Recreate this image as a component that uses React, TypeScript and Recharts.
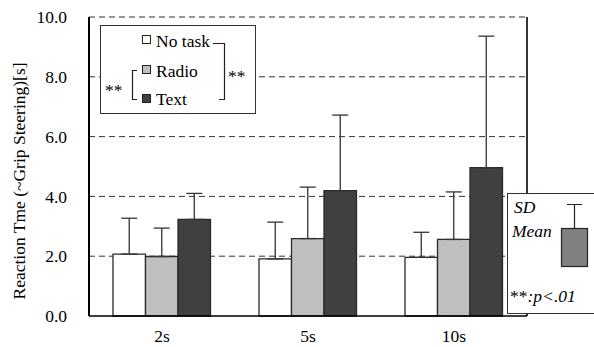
import { BarChart, Bar, XAxis, YAxis, CartesianGrid, ErrorBar } from 'recharts'

const categories = ['2s', '5s', '10s']
const noTaskMean = [2.07, 1.91, 1.96]
const noTaskSD = [1.2, 1.23, 0.84]
const radioMean = [1.99, 2.59, 2.56]
const radioSD = [0.95, 1.72, 1.59]
const textMean = [3.23, 4.19, 4.96]
const textSD = [0.87, 2.53, 4.4]
const yTicks = [0, 2, 4, 6, 8, 10]

// 17.5px: a 18px el renderizador cae a una fuente sans
const FONT = 'Liberation Serif'
const FS = 17.5
const COLORS = { none: '#ffffff', radio: '#bfbfbf', text: '#404040', edge: '#2a2a2a' }

const data = categories.map((name, i) => ({
  name,
  noTask: noTaskMean[i],
  noTaskErr: [0, noTaskSD[i]],
  radio: radioMean[i],
  radioErr: [0, radioSD[i]],
  text: textMean[i],
  textErr: [0, textSD[i]],
}))

const tickStyle = { fontSize: FS, fill: '#000', fontFamily: FONT }

// leyenda y anotaciones encima del gráfico
function Overlay() {
  const txt = { fontSize: FS, fill: '#000', fontFamily: FONT }
  const line = { stroke: '#222', strokeWidth: 1.2, fill: 'none' }
  return (
    <svg width={594} height={347} style={{ position: 'absolute', left: 0, top: 0, pointerEvents: 'none' }}>
      {/* borde derecho del área de trazado */}
      <line x1={527} y1={17} x2={527} y2={316} stroke="#000" strokeWidth={1.6} />

      <text {...txt} transform="rotate(-90 25 181)" x={25} y={181} textAnchor="middle">
        Reaction Tme (~Grip Steering)[s]
      </text>

      {/* caja de leyenda */}
      <rect x={100.5} y={25.5} width={155} height={88} fill="#fff" stroke="#333" strokeWidth={1} />
      <rect x={142.5} y={35.5} width={8} height={8} fill={COLORS.none} stroke="#222" />
      <text {...txt} x={156} y={47}>No task</text>
      <rect x={142.5} y={65.5} width={8} height={8} fill={COLORS.radio} stroke="#222" />
      <text {...txt} x={156} y={77}>Radio</text>
      <rect x={142.5} y={94.5} width={8} height={8} fill={COLORS.text} stroke="#222" />
      <text {...txt} x={156} y={105}>Text</text>
      <path d="M213 43.5 H224.5 V99.5 H219" {...line} />
      <text {...txt} x={228} y={82}>**</text>
      <path d="M137 70.5 H132.5 V99.5 H137" {...line} />
      <text {...txt} x={105} y={96}>**</text>

      {/* caja SD / Mean */}
      <rect x={507.5} y={193.5} width={100} height={120} fill="#fff" stroke="#333" strokeWidth={1} />
      <text {...txt} fontStyle="italic" x={514} y={213}>SD</text>
      <text {...txt} fontStyle="italic" x={512} y={237}>Mean</text>
      <path d="M574.5 228 V204.5 M567 204.5 H582" {...line} />
      <rect x={561.5} y={228.5} width={26} height={38} fill="#808080" stroke="#222" strokeWidth={1.2} />
      <text {...txt} x={510} y={302}>
        **<tspan fontStyle="italic">:p&lt;.01</tspan>
      </text>
    </svg>
  )
}

export default function App() {
  return (
    <div style={{ position: 'fixed', left: 0, top: 0, width: 594, height: 347, background: '#fff' }}>
      <BarChart
        width={594}
        height={347}
        data={data}
        margin={{ top: 17, right: 67, left: 0, bottom: 0 }}
        barGap={0}
        barSize={32.5}
      >
        <CartesianGrid
          horizontal
          vertical={false}
          stroke="#333"
          strokeDasharray="6 4"
          horizontalValues={[2, 4, 6, 8, 10]}
        />
        <XAxis
          dataKey="name"
          height={31}
          tickLine={false}
          tickSize={0}
          tickMargin={14}
          tick={tickStyle}
          axisLine={{ stroke: '#000', strokeWidth: 1.6 }}
        />
        <YAxis
          width={89}
          domain={[0, 10]}
          ticks={yTicks}
          tickFormatter={(v: number) => v.toFixed(1)}
          tickLine={false}
          tickSize={0}
          tickMargin={22}
          tick={tickStyle}
          axisLine={{ stroke: '#000', strokeWidth: 2 }}
        />
        <Bar dataKey="noTask" fill={COLORS.none} stroke={COLORS.edge} strokeWidth={1.3} isAnimationActive={false}>
          <ErrorBar dataKey="noTaskErr" direction="y" width={8} stroke="#333" strokeWidth={1.3} />
        </Bar>
        <Bar dataKey="radio" fill={COLORS.radio} stroke={COLORS.edge} strokeWidth={1.3} isAnimationActive={false}>
          <ErrorBar dataKey="radioErr" direction="y" width={8} stroke="#333" strokeWidth={1.3} />
        </Bar>
        <Bar dataKey="text" fill={COLORS.text} stroke={COLORS.edge} strokeWidth={1.3} isAnimationActive={false}>
          <ErrorBar dataKey="textErr" direction="y" width={8} stroke="#333" strokeWidth={1.3} />
        </Bar>
      </BarChart>
      <Overlay />
    </div>
  )
}
